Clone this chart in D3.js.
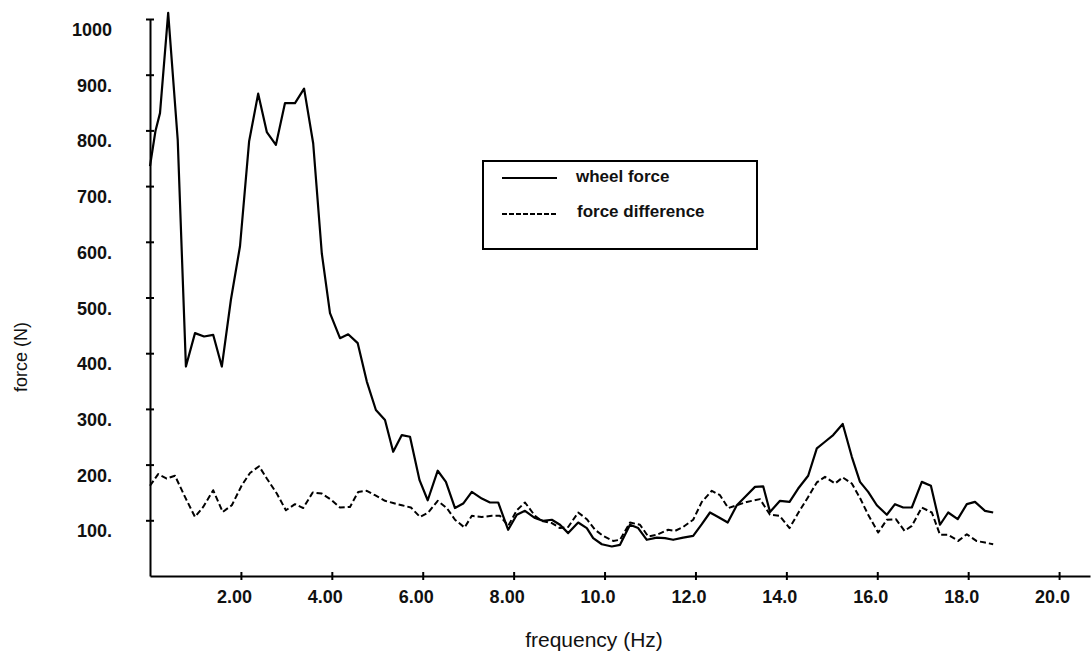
<!DOCTYPE html>
<html>
<head>
<meta charset="utf-8">
<script src="https://cdn.jsdelivr.net/npm/d3@7"></script>
<style>
  html, body { margin: 0; padding: 0; background: #fff; }
  svg { display: block; font-family: "Liberation Sans", Arial, sans-serif; }
</style>
</head>
<body>
<svg id="chart" width="1091" height="657"></svg>
<script>
// ---- data (frequency in Hz, force in N) ----
const wheelFreq = [0.00,0.12,0.22,0.40,0.61,0.79,0.99,1.19,1.39,1.58,1.78,1.98,2.18,2.38,2.57,2.77,2.97,3.19,3.39,3.59,3.78,3.96,4.18,4.36,4.57,4.77,4.97,5.17,5.35,5.54,5.72,5.93,6.11,6.33,6.51,6.71,6.89,7.08,7.30,7.48,7.66,7.88,8.07,8.25,8.47,8.65,8.84,9.02,9.20,9.42,9.61,9.75,9.94,10.16,10.34,10.56,10.74,10.93,11.15,11.33,11.51,11.73,11.95,12.14,12.32,12.50,12.71,12.91,13.09,13.31,13.49,13.64,13.86,14.07,14.26,14.48,14.67,14.85,15.03,15.24,15.44,15.62,15.80,15.99,16.21,16.39,16.57,16.76,16.98,17.18,17.38,17.56,17.77,17.97,18.15,18.37,18.55];
const wheelForce = [736,799,831,1011,783,376,436,430,433,376,496,592,780,866,797,774,849,849,875,777,579,472,427,434,418,349,298,280,223,253,250,172,136,189,169,122,130,151,139,132,132,83,110,117,104,99,101,92,77,96,86,68,57,53,56,92,86,65,69,68,65,69,72,93,114,106,96,127,142,160,161,115,135,133,157,180,229,241,253,273,214,169,151,127,110,129,123,123,169,162,92,114,102,129,133,117,114];

const diffFreq = [0.00,0.18,0.37,0.55,0.77,0.99,1.17,1.39,1.60,1.80,2.02,2.20,2.40,2.57,2.79,2.99,3.19,3.37,3.58,3.78,4.00,4.18,4.40,4.58,4.77,4.95,5.17,5.35,5.54,5.74,5.94,6.12,6.33,6.53,6.71,6.92,7.08,7.30,7.52,7.70,7.88,8.07,8.25,8.47,8.62,8.84,9.02,9.20,9.42,9.61,9.79,9.97,10.19,10.34,10.56,10.78,10.96,11.15,11.40,11.55,11.73,11.95,12.14,12.36,12.54,12.72,12.91,13.13,13.42,13.64,13.85,14.07,14.26,14.48,14.67,14.85,15.07,15.24,15.44,15.62,15.80,16.02,16.21,16.41,16.60,16.76,16.98,17.20,17.38,17.56,17.78,17.97,18.18,18.37,18.55];
const diffForce = [162,183,175,180,142,106,124,154,115,127,163,185,197,175,148,118,129,122,150,148,136,123,124,151,153,145,135,131,127,123,106,114,135,122,101,87,108,106,108,108,90,118,132,108,99,95,86,88,114,102,83,72,63,65,96,92,71,74,83,81,88,101,133,153,145,122,127,133,138,110,108,86,113,142,168,178,166,177,166,140,110,78,101,102,81,90,123,114,74,74,63,75,63,60,57];

const xTickValues = [2,4,6,8,10,12,14,16,18,20];
const xTickLabels = ["2.00","4.00","6.00","8.00","10.0","12.0","14.0","16.0","18.0","20.0"];
const yTickValues = [100,200,300,400,500,600,700,800,900,1000];
const yTickLabels = ["100.","200.","300.","400.","500.","600.","700.","800.","900.","1000"];
const seriesNames = ["wheel force", "force difference"];

// ---- layout ----
const svg = d3.select("#chart");
const x = d3.scaleLinear().domain([0, 20.68]).range([150, 1090]);
const y = d3.scaleLinear().domain([0, 1000]).range([576, 19]);

// y axis
const yAxis = svg.append("g")
  .attr("transform", `translate(${x(0)},0)`)
  .call(d3.axisLeft(y).tickValues(yTickValues).tickSizeInner(4).tickSizeOuter(0)
    .tickFormat((d, i) => yTickLabels[i]));
yAxis.select(".domain").attr("stroke", "#000").attr("stroke-width", 2);
yAxis.selectAll(".tick line").attr("x1", -4).attr("x2", 4).attr("stroke-width", 2);
yAxis.selectAll(".tick text")
  .attr("x", -38).attr("dy", null).attr("y", 16.5)
  .attr("text-anchor", "end")
  .style("font-family", "'Liberation Sans', Arial, sans-serif")
  .style("font-size", "18px").style("font-weight", "bold").attr("fill", "#111");

// x axis
const xAxis = svg.append("g")
  .attr("transform", `translate(0,${y(0)})`)
  .call(d3.axisBottom(x).tickValues(xTickValues).tickSizeInner(4).tickSizeOuter(0)
    .tickFormat((d, i) => xTickLabels[i]));
xAxis.select(".domain").attr("stroke", "#000").attr("stroke-width", 2);
xAxis.selectAll(".tick line").attr("y1", -4).attr("y2", 4).attr("stroke-width", 2);
xAxis.selectAll(".tick text")
  .attr("x", -7).attr("dy", null).attr("y", 27)
  .attr("text-anchor", "middle")
  .style("font-family", "'Liberation Sans', Arial, sans-serif")
  .style("font-size", "18px").style("font-weight", "bold").attr("fill", "#111");

// axis titles
svg.append("text")
  .attr("x", 594).attr("y", 647)
  .attr("text-anchor", "middle")
  .style("font-size", "21px").attr("fill", "#111")
  .text("frequency (Hz)");
svg.append("text")
  .attr("transform", "translate(27,357) rotate(-90)")
  .attr("text-anchor", "middle")
  .style("font-size", "18px").attr("fill", "#111")
  .text("force (N)");

// lines
const line = d3.line().x(d => x(d[0])).y(d => y(d[1]));
const wheelData = wheelFreq.map((f, i) => [f, wheelForce[i]]);
const diffData = diffFreq.map((f, i) => [f, diffForce[i]]);

svg.append("path").datum(diffData)
  .attr("d", line).attr("fill", "none").attr("stroke", "#000")
  .attr("stroke-width", 2).attr("stroke-dasharray", "6,3")
  .attr("stroke-linejoin", "round");
svg.append("path").datum(wheelData)
  .attr("d", line).attr("fill", "none").attr("stroke", "#000")
  .attr("stroke-width", 2.2).attr("stroke-linejoin", "round");

// legend
const lg = svg.append("g");
lg.append("rect").attr("x", 483).attr("y", 161).attr("width", 274).attr("height", 88)
  .attr("fill", "#fff").attr("stroke", "#000").attr("stroke-width", 2);
lg.append("line").attr("x1", 502).attr("x2", 557).attr("y1", 178).attr("y2", 178)
  .attr("stroke", "#000").attr("stroke-width", 2);
lg.append("line").attr("x1", 502).attr("x2", 557).attr("y1", 214).attr("y2", 214)
  .attr("stroke", "#000").attr("stroke-width", 2).attr("stroke-dasharray", "5,2");
lg.append("text").attr("x", 576).attr("y", 181.5)
  .style("font-size", "17px").style("font-weight", "bold").attr("fill", "#111")
  .text(seriesNames[0]);
lg.append("text").attr("x", 577).attr("y", 216.5)
  .style("font-size", "17px").style("font-weight", "bold").attr("fill", "#111")
  .text(seriesNames[1]);
</script>
</body>
</html>
